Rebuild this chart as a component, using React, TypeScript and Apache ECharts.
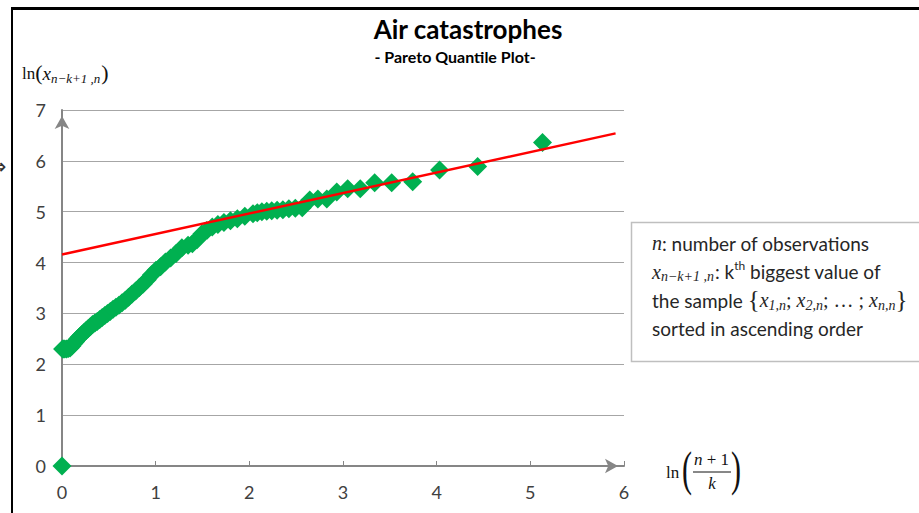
import React, { useEffect, useRef } from "react";
import * as echarts from "echarts";

// ln((n+1)/k) for the plotted ranks (n = 168)
const lnRankX: number[] = [
  0.006, 0.018, 0.03, 0.049, 0.067, 0.086, 0.106, 0.126, 0.146, 0.167, 0.188, 0.21, 0.232, 0.255,
  0.278, 0.302, 0.326, 0.351, 0.376, 0.403, 0.429, 0.457, 0.486, 0.515, 0.545, 0.576, 0.608,
  0.641, 0.676, 0.711, 0.748, 0.786, 0.826, 0.867, 0.91, 0.956, 1.003, 1.052, 1.104, 1.16, 1.218,
  1.28, 1.346, 1.392, 1.441, 1.492, 1.546, 1.604, 1.664, 1.729, 1.798, 1.872, 1.952, 2.039, 2.085,
  2.134, 2.186, 2.239, 2.297, 2.358, 2.422, 2.491, 2.565, 2.645, 2.732, 2.827, 2.933, 3.05, 3.184,
  3.338, 3.52, 3.744, 4.031, 4.437, 5.13,
];
// ln(x_{n-k+1,n}) for the same points
const lnValueY: number[] = [
  2.3, 2.3, 2.3, 2.3, 2.31, 2.32, 2.36, 2.41, 2.45, 2.5, 2.54, 2.58, 2.62, 2.66,
  2.7, 2.74, 2.78, 2.81, 2.84, 2.88, 2.92, 2.96, 3.0, 3.04, 3.08, 3.12, 3.16,
  3.21, 3.26, 3.32, 3.38, 3.44, 3.51, 3.58, 3.66, 3.76, 3.85, 3.92, 4.01, 4.09, 4.18,
  4.29, 4.34, 4.37, 4.45, 4.56, 4.63, 4.7, 4.75, 4.79, 4.82, 4.86, 4.91, 4.96, 4.98,
  5.0, 5.01, 5.02, 5.03, 5.04, 5.06, 5.07, 5.08, 5.23, 5.25, 5.25, 5.39, 5.45, 5.45,
  5.57, 5.57, 5.59, 5.82, 5.89, 6.36,
];
const extraPoint: number[] = [0, 0];
const trendLineX: number[] = [0, 5.91];
const trendLineY: number[] = [4.16, 6.54];
const xAxisRange: number[] = [0, 6];
const yAxisRange: number[] = [0, 7];

const SANS = "Lato, 'Liberation Sans', sans-serif";
const SERIF = "'Liberation Serif', 'DejaVu Serif', serif";

type Piece = {
  t: string;
  size: number;
  family: string;
  italic?: boolean;
  bold?: boolean;
  dy?: number;
  sx?: number;
  sy?: number;
  gap?: number;
};

let measureCtx: CanvasRenderingContext2D | null = null;
function textWidth(p: Piece): number {
  if (!measureCtx) measureCtx = document.createElement("canvas").getContext("2d");
  if (!measureCtx) return p.t.length * p.size * 0.5;
  measureCtx.font = `${p.italic ? "italic " : ""}${p.bold ? "bold " : ""}${p.size}px ${p.family}`;
  return measureCtx.measureText(p.t).width;
}

function txt(p: Piece, x: number, y: number, fill: string, align = "left"): any {
  return {
    type: "text",
    x,
    y: y + (p.dy || 0),
    scaleX: p.sx || 1,
    scaleY: p.sy || 1,
    silent: true,
    z: 20,
    style: {
      text: p.t,
      fontSize: p.size,
      fontFamily: p.family,
      fontStyle: p.italic ? "italic" : "normal",
      fontWeight: p.bold ? "bold" : "normal",
      fill,
      align,
      textAlign: align,
      verticalAlign: "middle",
      textVerticalAlign: "middle",
    },
  };
}

function flow(x0: number, y: number, pieces: Piece[], fill: string): any[] {
  const els: any[] = [];
  let x = x0;
  for (const p of pieces) {
    els.push(txt(p, x, y, fill));
    x += textWidth(p) * (p.sx || 1) + (p.gap || 0);
  }
  return els;
}

const LEG = 19;
const MX = 20;
const SUB = 14;

function buildGraphics(): any[] {
  const els: any[] = [];
  // frame lines
  els.push({ type: "line", shape: { x1: 11, y1: 8.5, x2: 919, y2: 8.5 }, style: { stroke: "#000", lineWidth: 3 }, silent: true, z: 20 });
  els.push({ type: "line", shape: { x1: 12, y1: 7, x2: 12, y2: 513 }, style: { stroke: "#000", lineWidth: 2 }, silent: true, z: 20 });
  els.push(txt({ t: "⇒", size: 22, family: SANS }, -12, 165, "#333"));

  // title
  els.push(txt({ t: "Air catastrophes", size: 26, family: SANS, bold: true }, 468, 29, "#000", "center"));
  els.push(txt({ t: "- Pareto Quantile Plot-", size: 16, family: SANS, bold: true }, 455, 56, "#000", "center"));

  // y-axis title
  els.push(
    ...flow(22, 73, [
      { t: "ln", size: 17, family: SERIF },
      { t: "(", size: 22, family: SERIF, dy: -1 },
      { t: "x", size: 19, family: SERIF, italic: true },
      { t: "n−k+1 ,n", size: 13, family: SERIF, italic: true, dy: 5, gap: 1 },
      { t: ")", size: 22, family: SERIF, dy: -1 },
    ], "#111")
  );

  // x-axis title: ln((n+1)/k)
  els.push(txt({ t: "ln", size: 17, family: SERIF }, 666, 472, "#111"));
  els.push(txt({ t: "(", size: 30, family: SERIF, sy: 1.65 }, 682, 469, "#111"));
  els.push(txt({ t: ")", size: 30, family: SERIF, sy: 1.65 }, 731, 469, "#111"));
  els.push(
    ...flow(694, 459, [
      { t: "n", size: 17, family: SERIF, italic: true },
      { t: " + 1", size: 17, family: SERIF },
    ], "#111")
  );
  els.push({ type: "line", shape: { x1: 693, y1: 472, x2: 731, y2: 472 }, style: { stroke: "#111", lineWidth: 1 }, silent: true, z: 20 });
  els.push(txt({ t: "k", size: 17, family: SERIF, italic: true }, 712, 483, "#111", "center"));

  // legend box
  els.push({
    type: "rect",
    shape: { x: 631.5, y: 222.5, width: 300, height: 139 },
    style: { stroke: "#BFBFBF", lineWidth: 1.5, fill: "#fff" },
    silent: true,
    z: 15,
  });
  const c = "#262626";
  els.push(
    ...flow(652, 243, [
      { t: "n", size: MX, family: SERIF, italic: true },
      { t: ": number of observations", size: LEG, family: SANS },
    ], c)
  );
  els.push(
    ...flow(652, 271.5, [
      { t: "x", size: MX, family: SERIF, italic: true },
      { t: "n−k+1 ,n", size: SUB, family: SERIF, italic: true, dy: 5, gap: 1 },
      { t: ": k", size: LEG, family: SANS },
      { t: "th", size: 12, family: SANS, dy: -6 },
      { t: " biggest value of", size: LEG, family: SANS },
    ], c)
  );
  els.push(
    ...flow(652, 300, [
      { t: "the sample ", size: LEG, family: SANS },
      { t: "{", size: 25, family: SERIF, dy: -1 },
      { t: "x", size: MX, family: SERIF, italic: true },
      { t: "1,n", size: SUB, family: SERIF, italic: true, dy: 5 },
      { t: "; ", size: MX, family: SERIF },
      { t: "x", size: MX, family: SERIF, italic: true },
      { t: "2,n", size: SUB, family: SERIF, italic: true, dy: 5 },
      { t: "; … ; ", size: MX, family: SERIF },
      { t: "x", size: MX, family: SERIF, italic: true },
      { t: "n,n", size: SUB, family: SERIF, italic: true, dy: 5 },
      { t: "}", size: 25, family: SERIF, dy: -1 },
    ], c)
  );
  els.push(...flow(652, 328, [{ t: "sorted in ascending order", size: LEG, family: SANS }], c));
  return els;
}

export default function App() {
  const ref = useRef<HTMLDivElement>(null);
  useEffect(() => {
    if (!ref.current) return;
    const chart = echarts.init(ref.current, undefined, { renderer: "svg" });
    const points = lnRankX.map((x, i) => [x, lnValueY[i]]);
    points.unshift(extraPoint);
    const trend = trendLineX.map((x, i) => [x, trendLineY[i]]);
    const axisLineStyle = { color: "#868686", width: 2 };
    const labelStyle = { color: "#404040", fontSize: 18, fontFamily: SANS };
    chart.setOption({
      animation: false,
      backgroundColor: "#fff",
      grid: { left: 62, right: 295, top: 110, bottom: 47, containLabel: false },
      xAxis: {
        type: "value",
        min: xAxisRange[0],
        max: xAxisRange[1],
        interval: 1,
        splitLine: { show: false },
        axisLine: {
          show: true,
          onZero: false,
          symbol: ["none", "arrow"],
          symbolSize: [11, 13],
          symbolOffset: [0, -6],
          lineStyle: axisLineStyle,
        },
        axisTick: { show: true, inside: true, length: 5, lineStyle: { color: "#868686", width: 1 } },
        axisLabel: { ...labelStyle, margin: 17 },
      },
      yAxis: {
        type: "value",
        min: yAxisRange[0],
        max: yAxisRange[1],
        interval: 1,
        splitLine: { show: true, lineStyle: { color: "#A6A6A6", width: 1 } },
        axisLine: {
          show: true,
          onZero: false,
          symbol: ["none", "arrow"],
          symbolSize: [11, 13],
          symbolOffset: [0, -6],
          lineStyle: axisLineStyle,
        },
        axisTick: { show: false },
        axisLabel: { ...labelStyle, margin: 16 },
      },
      series: [
        {
          type: "scatter",
          data: points,
          symbol: "diamond",
          symbolSize: 19,
          itemStyle: { color: "#00B050", opacity: 1 },
          z: 2,
        },
        {
          type: "line",
          data: trend,
          showSymbol: false,
          symbol: "none",
          lineStyle: { color: "#FF0000", width: 2.5 },
          z: 3,
        },
      ],
      graphic: { elements: buildGraphics() },
    });
    return () => chart.dispose();
  }, []);
  return (
    <div
      ref={ref}
      style={{ position: "absolute", left: 0, top: 0, width: 919, height: 513, background: "#fff" }}
    />
  );
}
